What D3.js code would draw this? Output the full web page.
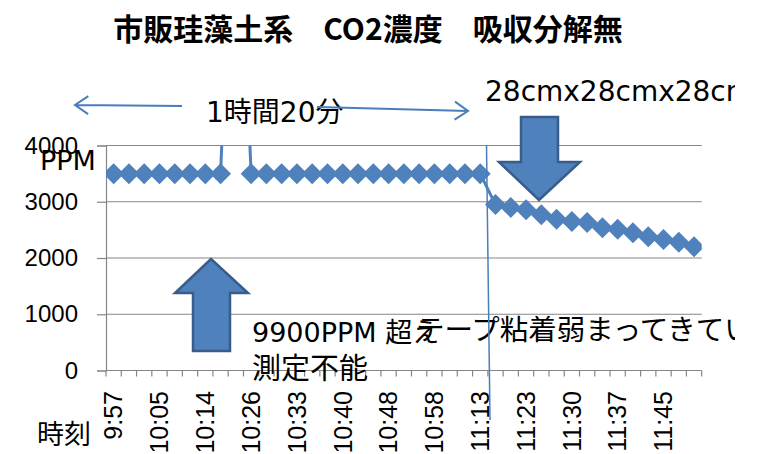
<!DOCTYPE html>
<meta charset="utf-8">
<style>
  body { margin: 0; background: #fff; }
  text { font-family: "DejaVu Sans", "Noto Sans CJK JP", sans-serif; fill: #000; }
  .ax { font-family: "Liberation Sans", "Noto Sans CJK JP", sans-serif; }
</style>
<svg width="760" height="454"></svg>
<script src="https://cdn.jsdelivr.net/npm/d3@7"></script>
<script>

var times = ["9:57", "10:00", "10:02", "10:05", "10:08", "10:11", "10:14", "10:18", "10:22",
  "10:26", "10:28", "10:31", "10:33", "10:35", "10:38", "10:40", "10:43", "10:45", "10:48",
  "10:51", "10:55", "10:58", "11:03", "11:08", "11:13", "11:16", "11:20", "11:23", "11:25",
  "11:28", "11:30", "11:32", "11:35", "11:37", "11:40", "11:42", "11:45", "11:48", "11:50"];

// ppm, the 9th reading was off the scale (> 9900)
var ppm = [3500, 3500, 3500, 3500, 3500, 3500, 3500, 3500, 9900,
  3500, 3500, 3500, 3500, 3500, 3500, 3500, 3500, 3500, 3500,
  3500, 3500, 3500, 3500, 3500, 3500, 2950, 2900, 2860, 2770,
  2690, 2650, 2630, 2540, 2510, 2450, 2380, 2330, 2280, 2200];

var tickLabels = ["9:57", "10:05", "10:14", "10:26", "10:33", "10:40", "10:48",
  "10:58", "11:13", "11:23", "11:30", "11:37", "11:45"];
var yTicks = [0, 1000, 2000, 3000, 4000];

var blue = "#4f81bd", dark = "#385d8a", grid = "#868686";
var pl = 106, pr = 701.7, pt = 145.5, pb = 370.5;

var svg = d3.select("svg");
svg.append("clipPath").attr("id", "page")
  .append("rect").attr("width", 735).attr("height", 454);
svg.append("clipPath").attr("id", "plot")
  .append("rect").attr("x", pl).attr("y", pt)
    .attr("width", pr - pl).attr("height", pb - pt);

var g = svg.append("g").attr("clip-path", "url(#page)");

var x = d3.scaleBand().domain(times).range([pl, pr]);
var y = d3.scaleLinear().domain([0, 4000]).range([pb, pt]);
var cx = function(d, i) { return x(times[i]) + x.bandwidth() / 2; };

// gridlines
g.append("g").selectAll("line").data(yTicks).enter().append("line")
    .attr("x1", pl).attr("x2", pr)
    .attr("y1", function(d) { return y(d); }).attr("y2", function(d) { return y(d); })
    .attr("stroke", grid).attr("stroke-width", 1.2);

var yAxis = g.append("g").attr("transform", "translate(" + pl + ",0)")
    .call(d3.axisLeft(y).tickValues(yTicks).tickFormat(d3.format("d"))
      .tickSize(9).tickPadding(19));
yAxis.selectAll("path,line").attr("stroke", grid).attr("stroke-width", 1.2);
yAxis.selectAll("text").attr("class", "ax").style("font-size", "24px").attr("fill", "#000");

// category ticks on the x axis
g.append("g").selectAll("line").data(d3.range(times.length + 1)).enter().append("line")
    .attr("x1", function(i) { return pl + i * x.step(); })
    .attr("x2", function(i) { return pl + i * x.step(); })
    .attr("y1", pb).attr("y2", pb + 6)
    .attr("stroke", grid).attr("stroke-width", 1.2);

g.append("g").selectAll("text").data(tickLabels).enter().append("text")
    .attr("class", "ax")
    .attr("transform", function(d) {
      return "translate(" + (x(d) + x.bandwidth() / 2) + ",391) rotate(-90)";
    })
    .attr("dy", "0.35em").attr("text-anchor", "end")
    .style("font-size", "25px")
    .text(function(d) { return d; });

// series
var series = g.append("g").attr("clip-path", "url(#plot)");
var line = d3.line().x(cx).y(function(d) { return y(d); });
series.append("path").datum(ppm)
    .attr("d", line).attr("fill", "none")
    .attr("stroke", blue).attr("stroke-width", 3);
var h = 10.5;
series.selectAll(".m").data(ppm).enter().append("path")
    .attr("class", "m")
    .attr("transform", function(d, i) { return "translate(" + cx(d, i) + "," + y(d) + ")"; })
    .attr("d", "M0," + -h + "L" + h + ",0L0," + h + "L" + -h + ",0Z")
    .attr("fill", blue);

// annotations
g.append("text").attr("x", 368).attr("y", 40).attr("text-anchor", "middle")
    .style("font-size", "30px").style("font-weight", "bold")
    .style("font-family", "'Noto Sans CJK JP', sans-serif")
    .text("市販珪藻土系　CO2濃度　吸収分解無");

g.append("text").attr("x", 40).attr("y", 170).style("font-size", "27px").text("PPM");
g.append("text").attr("x", 37).attr("y", 444).style("font-size", "27px").text("時刻");

g.append("text").attr("x", 206).attr("y", 122).style("font-size", "28px").text("1時間20分");
g.append("text").attr("x", 485).attr("y", 101).style("font-size", "28px").text("28cmx28cmx28cm");
g.append("text").attr("x", 252).attr("y", 342).style("font-size", "27px").text("9900PPM 超え");
g.append("text").attr("x", 252).attr("y", 379).style("font-size", "29px").text("測定不能");
g.append("text").attr("x", 416).attr("y", 340).style("font-size", "28.5px").text("テープ粘着弱まってきている");

var arrow = function(x1, y1, x2, y2) {
  var a = Math.atan2(y2 - y1, x2 - x1), L = 16, w = 0.6;
  g.append("path")
    .attr("d", "M" + x1 + "," + y1 + "L" + x2 + "," + y2 +
      "M" + (x2 - L * Math.cos(a - w)) + "," + (y2 - L * Math.sin(a - w)) +
      "L" + x2 + "," + y2 +
      "L" + (x2 - L * Math.cos(a + w)) + "," + (y2 - L * Math.sin(a + w)))
    .attr("fill", "none").attr("stroke", "#4a7ebb").attr("stroke-width", 2);
};
arrow(182, 106, 75, 105);
arrow(317, 107, 468, 111);

g.append("line").attr("x1", 486.5).attr("y1", 145).attr("x2", 490).attr("y2", 420)
    .attr("stroke", "#4a7ebb").attr("stroke-width", 1.5);

var block = function(pts) {
  g.append("path").attr("d", "M" + pts.join("L") + "Z")
    .attr("fill", blue).attr("stroke", dark).attr("stroke-width", 2.5)
    .attr("stroke-linejoin", "miter");
};
block([[521, 117], [558, 117], [558, 162], [580, 162], [539, 200], [499, 162], [521, 162]]);
block([[211, 259], [248, 293], [230, 293], [230, 351], [193, 351], [193, 293], [175, 293]]);

</script>
